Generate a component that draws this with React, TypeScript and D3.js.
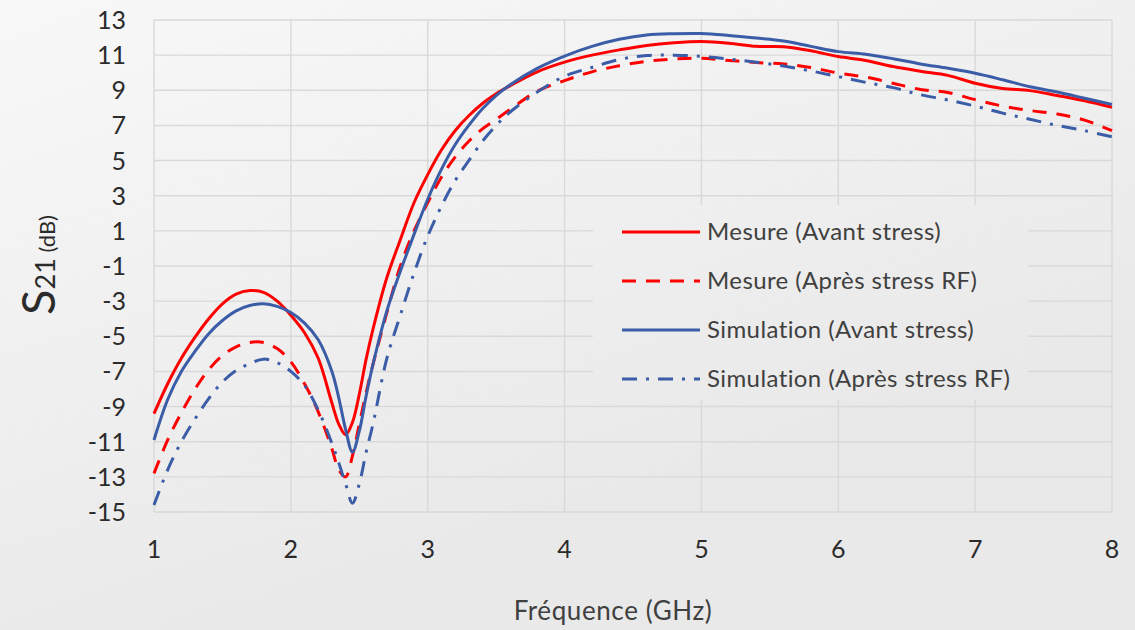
import React from 'react';
import * as d3 from 'd3';

// frequency samples (GHz)
const freq = [1.0, 1.1, 1.2, 1.3, 1.4, 1.5, 1.6, 1.7, 1.8, 1.9, 2.0, 2.1, 2.2, 2.3, 2.35, 2.4, 2.45, 2.5, 2.55, 2.6,
  2.7, 2.8, 2.9, 3.0, 3.1, 3.2, 3.3, 3.4, 3.5, 3.6, 3.8, 4.0, 4.2, 4.4, 4.6, 4.8, 5.0, 5.2, 5.4, 5.6,
  5.8, 6.0, 6.2, 6.4, 6.6, 6.8, 7.0, 7.2, 7.4, 7.6, 7.8, 8.0];

const mesureAvant = [-9.4, -7.7, -6.25, -5.05, -4.0, -3.15, -2.6, -2.4, -2.5, -3.0, -3.8, -4.8, -6.25, -8.8, -10.0, -10.6, -9.9, -8.3, -6.3, -4.6,
  -1.7, 0.5, 2.6, 4.2, 5.6, 6.7, 7.55, 8.25, 8.8, 9.25, 10.05, 10.6, 11.0, 11.3, 11.55, 11.7, 11.77, 11.68, 11.5, 11.48,
  11.25, 10.92, 10.7, 10.35, 10.08, 9.85, 9.4, 9.1, 8.98, 8.7, 8.4, 8.03];

const mesureApres = [-12.8, -10.9, -9.35, -8.0, -6.9, -6.1, -5.6, -5.35, -5.35, -5.7, -6.45, -7.7, -9.3, -11.4, -12.6, -13.0, -11.8, -10.0, -8.2, -6.6,
  -3.7, -1.0, 1.0, 2.6, 4.05, 5.2, 6.1, 6.8, 7.35, 7.9, 8.95, 9.55, 10.05, 10.4, 10.65, 10.78, 10.82, 10.7, 10.58, 10.5,
  10.3, 9.98, 9.75, 9.4, 9.05, 8.87, 8.47, 8.1, 7.85, 7.65, 7.3, 6.7];

const simAvant = [-10.9, -8.6, -7.0, -5.85, -4.85, -4.1, -3.55, -3.25, -3.15, -3.3, -3.65, -4.25, -5.2, -7.0, -8.5, -10.3, -11.6, -10.4, -8.4, -6.6,
  -3.6, -1.3, 0.8, 2.8, 4.5, 5.9, 7.0, 7.95, 8.7, 9.3, 10.25, 10.95, 11.5, 11.9, 12.15, 12.22, 12.23, 12.12, 11.97, 11.8,
  11.5, 11.2, 11.05, 10.8, 10.5, 10.25, 9.97, 9.6, 9.2, 8.9, 8.55, 8.2];

const simApres = [-14.6, -12.6, -11.0, -9.7, -8.55, -7.6, -6.95, -6.55, -6.3, -6.5, -7.0, -7.8, -9.2, -11.1, -12.2, -13.4, -14.5, -13.4, -11.6, -10.0,
  -6.3, -3.8, -1.4, 0.7, 2.4, 3.85, 5.0, 6.1, 7.0, 7.75, 8.9, 9.8, 10.3, 10.75, 10.98, 11.0, 10.93, 10.78, 10.6, 10.38,
  10.1, 9.78, 9.45, 9.15, 8.75, 8.45, 8.1, 7.7, 7.35, 7.0, 6.7, 6.35];

const xTicks = [1, 2, 3, 4, 5, 6, 7, 8];
const yTicks = [-15, -13, -11, -9, -7, -5, -3, -1, 1, 3, 5, 7, 9, 11, 13];

const seriesNames = ['Mesure (Avant stress)', 'Mesure (Après stress RF)', 'Simulation (Avant stress)', 'Simulation (Après stress RF)'];

const RED = '#ff0000';
const BLUE = '#3b5ca6';
const FONT = 'Lato, "Open Sans", sans-serif';

const W = 1135;
const H = 630;

export default function App() {
  const x = d3.scaleLinear().domain([1, 8]).range([154, 1112]);
  const y = d3.scaleLinear().domain([-15, 13]).range([512, 20]);

  const series = [
    { name: seriesNames[0], values: mesureAvant, color: RED, dash: undefined },
    { name: seriesNames[1], values: mesureApres, color: RED, dash: '14,10' },
    { name: seriesNames[2], values: simAvant, color: BLUE, dash: undefined },
    { name: seriesNames[3], values: simApres, color: BLUE, dash: '15,9,3,9' },
  ];

  const line = d3.line<number>()
    .x((_, i) => x(freq[i]))
    .y(d => y(d))
    .curve(d3.curveCatmullRom.alpha(0.5));

  // legend
  const legX = 622;
  const legY = 232;
  const legStep = 49;

  return (
    <svg width={W} height={H} style={{ position: 'absolute', left: 0, top: 0, display: 'block' }}
      fontFamily={FONT}>
      <defs>
        <linearGradient id="bg" gradientUnits="userSpaceOnUse" x1="0" y1="0" x2="200" y2={H}>
          <stop offset="0" stopColor="#f8f8f8" />
          <stop offset="1" stopColor="#e9e9e9" />
        </linearGradient>
      </defs>
      <rect width={W} height={H} fill="url(#bg)" />

      {/* grid */}
      {yTicks.map(t => (
        <line key={'h' + t} x1={x(1)} x2={x(8)} y1={y(t)} y2={y(t)} stroke="#d9d9d9" strokeWidth={1.4} />
      ))}
      {xTicks.map(t => (
        <line key={'v' + t} x1={x(t)} x2={x(t)} y1={y(13)} y2={y(-15)} stroke="#d9d9d9" strokeWidth={1.4} />
      ))}

      {/* legend box hides grid */}
      <rect x={593} y={205} width={435} height={195} fill="url(#bg)" />

      {/* tick labels */}
      {yTicks.map(t => (
        <text key={'yl' + t} x={126} y={y(t) + 9} textAnchor="end" fontSize={25} fill="#2b2b2b">{t}</text>
      ))}
      {xTicks.map(t => (
        <text key={'xl' + t} x={x(t)} y={558} textAnchor="middle" fontSize={25} fill="#2b2b2b">{t}</text>
      ))}

      {/* axis titles */}
      <text x={613} y={620} textAnchor="middle" fontSize={26} letterSpacing={0.6} fill="#404040">Fréquence (GHz)</text>
      <text transform="translate(55,265) rotate(-90)" textAnchor="middle" fill="#2b2b2b">
        <tspan fontSize={47}>S</tspan>
        <tspan fontSize={27}>21</tspan>
        <tspan fontSize={22}> (dB)</tspan>
      </text>

      {/* curves */}
      {series.map(s => (
        <path key={s.name} d={line(s.values) || ''} fill="none" stroke={s.color} strokeWidth={3}
          strokeDasharray={s.dash} strokeLinejoin="round" />
      ))}

      {/* legend */}
      {series.map((s, i) => (
        <g key={'lg' + i} transform={`translate(${legX},${legY + i * legStep})`}>
          <line x1={0} x2={78} y1={0} y2={0} stroke={s.color} strokeWidth={3} strokeDasharray={s.dash} />
          <text x={85} y={8} fontSize={24} letterSpacing={0.4} fill="#404040">{s.name}</text>
        </g>
      ))}
    </svg>
  );
}
